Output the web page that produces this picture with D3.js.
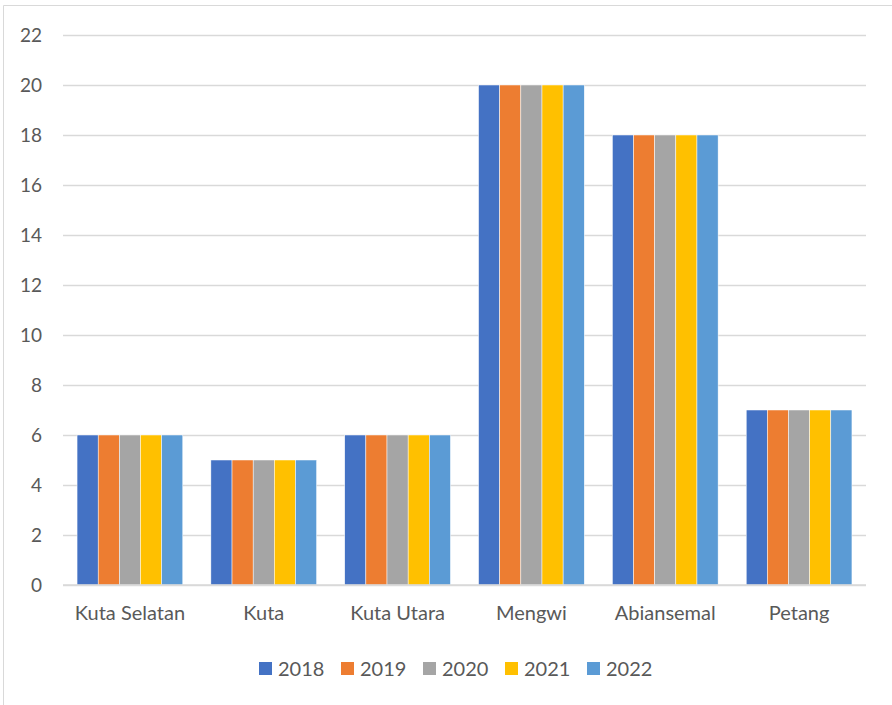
<!DOCTYPE html>
<html>
  <head>
    <meta charset="utf-8">
    <script src="https://d3js.org/d3.v7.min.js"></script>
    <style>
      body { margin: 0; background: #fff; }
      text { font-family: Lato, "Liberation Sans", sans-serif; fill: #595959; }
    </style>
  </head>
  <body>
    <svg width="892" height="705"></svg>
    <script>
      const categories = ['Kuta Selatan', 'Kuta', 'Kuta Utara', 'Mengwi', 'Abiansemal', 'Petang'];
      const years = ['2018', '2019', '2020', '2021', '2022'];
      const v2018 = [6, 5, 6, 20, 18, 7];
      const v2019 = [6, 5, 6, 20, 18, 7];
      const v2020 = [6, 5, 6, 20, 18, 7];
      const v2021 = [6, 5, 6, 20, 18, 7];
      const v2022 = [6, 5, 6, 20, 18, 7];
      const yTicks = [0, 2, 4, 6, 8, 10, 12, 14, 16, 18, 20, 22];
      const colors = ['#4472C4', '#ED7D31', '#A5A5A5', '#FFC000', '#5B9BD5'];

      const series = [v2018, v2019, v2020, v2021, v2022];

      const svg = d3.select('svg');
      // chart frame (only left and top edges fall inside the picture)
      svg.append('path')
        .attr('d', 'M3.5,705 V5.5 H892')
        .attr('fill', 'none').attr('stroke', '#d9d9d9');

      const margin = {left: 63, right: 26, top: 35, bottom: 120};
      const innerWidth = 892 - margin.left - margin.right;
      const innerHeight = 705 - margin.top - margin.bottom;

      const g = svg.append('g')
        .attr('transform', `translate(${margin.left}, ${margin.top})`);

      const xScale = d3.scaleBand()
        .domain(categories)
        .range([0, innerWidth])
        .paddingInner(0.21)
        .paddingOuter(0.105);
      const xInner = d3.scaleBand()
        .domain(years)
        .range([0, xScale.bandwidth()]);
      const yScale = d3.scaleLinear()
        .domain([0, 22])
        .range([innerHeight, 0]);

      // gridlines + y labels
      const yAxis = d3.axisLeft(yScale)
        .tickValues(yTicks)
        .tickSize(-innerWidth)
        .tickPadding(21);
      const yAxisG = g.append('g').call(yAxis);
      yAxisG.select('.domain').remove();
      yAxisG.selectAll('line').attr('stroke', '#d9d9d9').attr('stroke-width', 1.3);
      yAxisG.selectAll('text').attr('font-size', 19).style('fill', '#595959')
        .style('font-family', 'Lato, "Liberation Sans", sans-serif');

      // bars
      const groups = g.selectAll('.cat').data(categories)
        .enter().append('g')
          .attr('transform', d => `translate(${xScale(d)},0)`);
      groups.selectAll('rect')
        .data((c, i) => years.map((y, k) => ({year: y, value: series[k][i], k})))
        .enter().append('rect')
          .attr('x', d => xInner(d.year))
          .attr('y', d => yScale(d.value))
          .attr('width', xInner.bandwidth())
          .attr('height', d => innerHeight - yScale(d.value))
          .attr('fill', d => colors[d.k])
          .attr('stroke', '#fff')
          .attr('stroke-width', 0.5);

      // baseline
      g.append('line')
        .attr('x1', 0).attr('x2', innerWidth)
        .attr('y1', innerHeight).attr('y2', innerHeight)
        .attr('stroke', '#d9d9d9').attr('stroke-width', 1.5);

      // x labels
      const xAxis = d3.axisBottom(xScale).tickSize(0).tickPadding(21);
      const xAxisG = g.append('g')
        .attr('transform', `translate(0, ${innerHeight})`)
        .call(xAxis);
      xAxisG.select('.domain').remove();
      xAxisG.selectAll('text').attr('font-size', 20).style('fill', '#595959')
        .style('font-family', 'Lato, "Liberation Sans", sans-serif');

      // legend
      const legend = svg.append('g').attr('transform', 'translate(259, 662)');
      const item = legend.selectAll('g').data(years)
        .enter().append('g')
          .attr('transform', (d, i) => `translate(${i * 82}, 0)`);
      item.append('rect')
        .attr('width', 13).attr('height', 13)
        .attr('fill', (d, i) => colors[i]);
      item.append('text')
        .attr('x', 19).attr('y', 13.5)
        .attr('font-size', 20)
        .text(d => d);
    </script>
  </body>
</html>
